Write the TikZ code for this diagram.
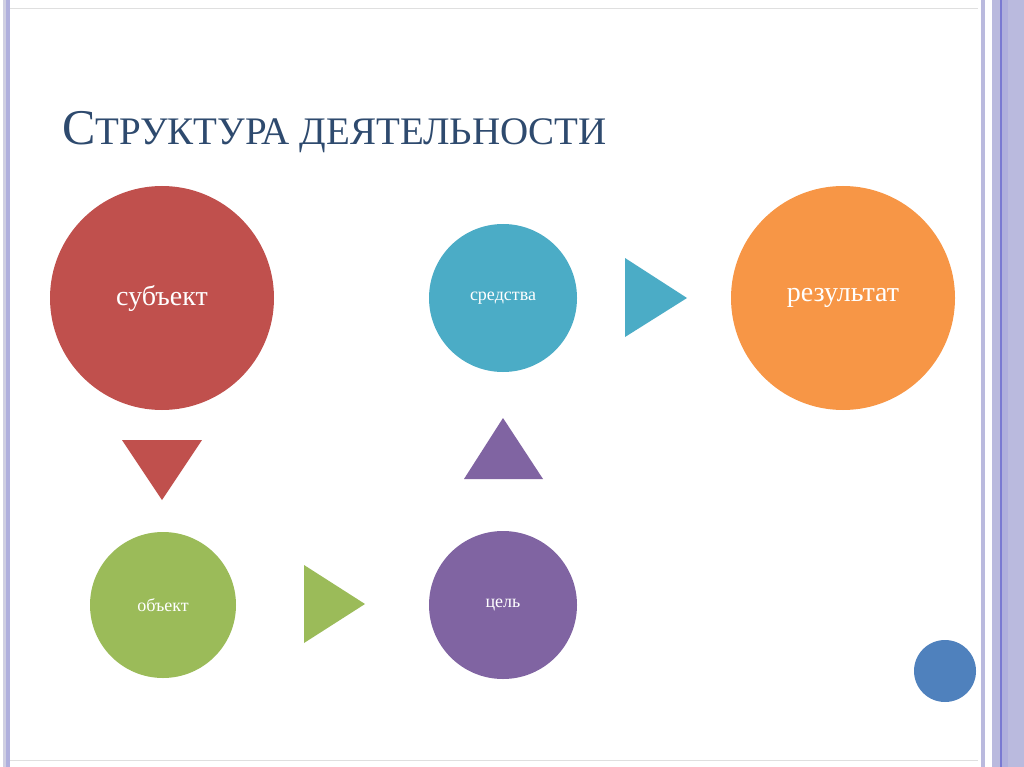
\documentclass[tikz,border=0pt]{standalone}
\usepackage{fontspec}
\setmainfont{Liberation Serif}
\begin{document}
\begin{tikzpicture}[x=1pt,y=-1pt,
 circ/.style={circle,inner sep=0pt,text=white},
 tri/.style={draw=none}]
\useasboundingbox (0,0) rectangle (1024,767);
\fill[white] (0,0) rectangle (1024,767);
% borders
\fill[blue!25!gray!30] (3,0) rectangle (6,767);
\fill[blue!40!gray!45] (6,0) rectangle (10,767);
\draw[gray!25] (10,8) -- (978,8);
\draw[gray!25] (10,760) -- (978,760);
\fill[blue!35!gray!40] (981,0) rectangle (985,767);
\fill[blue!35!gray!40] (992,0) rectangle (1000,767);
\fill[blue!50!gray!70] (1000,0) rectangle (1001.5,767);
\fill[blue!40!gray!45] (1001.5,0) rectangle (1008,767);
\fill[blue!35!gray!40] (1008,0) rectangle (1024,767);
% title
\definecolor{ttl}{HTML}{2E4A6E}
\node[anchor=base west,text=ttl,inner sep=0pt] (title) at (62,145)
 {\fontsize{50}{50}\selectfont С\fontsize{39}{39}\selectfont ТРУКТУРА ДЕЯТЕЛЬНОСТИ};
% circles
\definecolor{cred}{HTML}{C0504D}\definecolor{cteal}{HTML}{4BACC6}
\definecolor{corg}{HTML}{F79646}\definecolor{cgrn}{HTML}{9BBB59}
\definecolor{cpur}{HTML}{8064A2}\definecolor{cblu}{HTML}{4F81BD}
\node[circ,fill=cred,minimum size=224] (subj) at (162,298) {\fontsize{28}{28}\selectfont субъект};
\node[circ,fill=cteal,minimum size=148] (sred) at (503,298) {\fontsize{18}{18}\selectfont средства};
\node[circ,fill=corg,minimum size=224] (res) at (843,298) {\fontsize{28}{28}\selectfont результат};
\node[circ,fill=cgrn,minimum size=146] (obj) at (163,605) {\fontsize{18}{18}\selectfont объект};
\node[circ,fill=cpur,minimum size=148] (cel) at (503,605) {\fontsize{18}{18}\selectfont цель};
\node[circ,fill=cblu,minimum size=62] (dot) at (945,671) {};
% triangles
\fill[cred] (122,440) -- (202,440) -- (162,500) -- cycle;
\fill[cteal] (625,258) -- (625,337) -- (687,298) -- cycle;
\fill[cpur] (464,479) -- (543,479) -- (503,418) -- cycle;
\fill[cgrn] (304,565) -- (304,643) -- (365,604) -- cycle;
\end{tikzpicture}
\end{document}
